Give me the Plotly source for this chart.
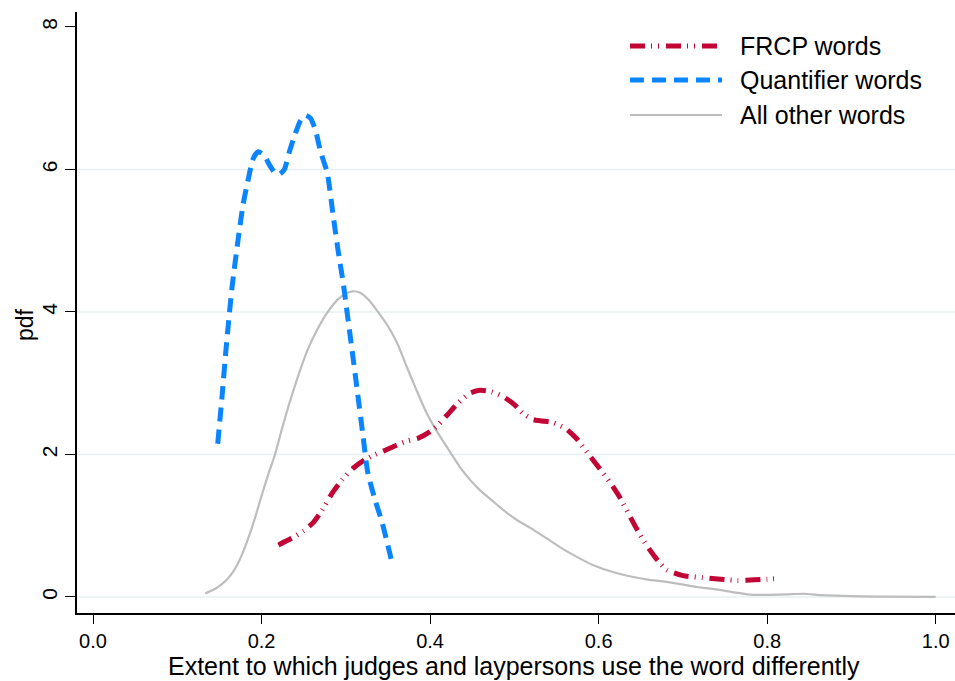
import plotly.graph_objects as go

# ---------------- data ----------------
quant_x = [0.148, 0.153, 0.158, 0.165, 0.172, 0.178, 0.184, 0.190, 0.196, 0.203,
           0.210, 0.216, 0.221, 0.227, 0.233, 0.240, 0.246, 0.252, 0.258, 0.264,
           0.270, 0.278, 0.285, 0.291, 0.297, 0.302, 0.307, 0.313, 0.320, 0.326,
           0.335, 0.343, 0.350, 0.355]
quant_y = [2.15, 2.80, 3.50, 4.35, 5.00, 5.50, 5.85, 6.15, 6.25, 6.20,
           6.05, 5.95, 5.93, 6.00, 6.25, 6.50, 6.68, 6.76, 6.72, 6.55,
           6.25, 5.95, 5.35, 4.85, 4.40, 3.95, 3.50, 2.95, 2.30, 1.75,
           1.35, 1.05, 0.72, 0.47]

frcp_x = [0.220, 0.235, 0.250, 0.261, 0.272, 0.284, 0.296, 0.309, 0.322, 0.335,
          0.347, 0.360, 0.373, 0.386, 0.400, 0.410, 0.420, 0.433, 0.447, 0.459,
          0.473, 0.487, 0.500, 0.511, 0.522, 0.533, 0.545, 0.560, 0.574, 0.587,
          0.600, 0.614, 0.625, 0.635, 0.645, 0.655, 0.667, 0.681, 0.700, 0.724,
          0.745, 0.765, 0.785, 0.800, 0.815]
frcp_y = [0.73, 0.82, 0.93, 1.04, 1.22, 1.46, 1.65, 1.81, 1.92, 2.00,
          2.06, 2.13, 2.19, 2.23, 2.32, 2.42, 2.55, 2.72, 2.86, 2.90,
          2.88, 2.81, 2.70, 2.57, 2.49, 2.47, 2.45, 2.37, 2.22, 2.02,
          1.82, 1.60, 1.40, 1.18, 0.96, 0.76, 0.56, 0.38, 0.30, 0.27,
          0.25, 0.23, 0.24, 0.25, 0.26]

other_x = [0.133, 0.143, 0.153, 0.163, 0.171, 0.178, 0.185, 0.192, 0.200, 0.208,
           0.216, 0.224, 0.232, 0.242, 0.254, 0.266, 0.278, 0.290, 0.300, 0.308,
           0.317, 0.327, 0.337, 0.349, 0.361, 0.372, 0.384, 0.396, 0.412, 0.424,
           0.435, 0.447, 0.459, 0.473, 0.487, 0.503, 0.519, 0.536, 0.554, 0.573,
           0.593, 0.617, 0.641, 0.660, 0.676, 0.697, 0.717, 0.744, 0.763, 0.783,
           0.805, 0.823, 0.843, 0.865, 0.890, 0.930, 1.000]
other_y = [0.05, 0.10, 0.18, 0.30, 0.45, 0.63, 0.85, 1.10, 1.42, 1.72,
           2.00, 2.35, 2.68, 3.05, 3.45, 3.75, 3.99, 4.17, 4.26, 4.29,
           4.27, 4.17, 4.02, 3.82, 3.56, 3.24, 2.90, 2.58, 2.25, 2.03,
           1.83, 1.65, 1.50, 1.36, 1.22, 1.08, 0.97, 0.84, 0.70, 0.57,
           0.45, 0.35, 0.28, 0.24, 0.22, 0.18, 0.14, 0.10, 0.06, 0.03,
           0.03, 0.035, 0.045, 0.025, 0.015, 0.005, 0.0]

x_ticks = [0.0, 0.2, 0.4, 0.6, 0.8, 1.0]
x_ticklabels = ["0.0", "0.2", "0.4", "0.6", "0.8", "1.0"]
y_ticks = [0, 2, 4, 6, 8]
y_ticklabels = ["0", "2", "4", "6", "8"]
grid_vals = [0, 2, 4, 6]

series_names = ["FRCP words", "Quantifier words", "All other words"]
x_title = "Extent to which judges and laypersons use the word differently"
y_title = "pdf"

# ---------------- style ----------------
RED = "#c10534"
BLUE = "#0a84ff"
GRAY = "#bdbdbd"
RED_DASH = "15px,6px,1px,6px,1px,7px"
BLUE_DASH = "14px,8px"
FONT = "Liberation Sans, Arial, Helvetica, sans-serif"

# figure fills the whole window (page body margin removed below)
W, H = 955, 681
ML, MT, MR = 77, 12, 0
MB = H - 613

fig = go.Figure()
fig.add_trace(go.Scatter(x=other_x, y=other_y, mode="lines", name=series_names[2],
                         line=dict(color=GRAY, width=2.2, shape="spline", smoothing=0.6),
                         showlegend=False))
fig.add_trace(go.Scatter(x=frcp_x, y=frcp_y, mode="lines", name=series_names[0],
                         line=dict(color=RED, width=5, dash=RED_DASH, shape="spline", smoothing=0.6),
                         showlegend=False))
fig.add_trace(go.Scatter(x=quant_x, y=quant_y, mode="lines", name=series_names[1],
                         line=dict(color=BLUE, width=5, dash=BLUE_DASH, shape="spline", smoothing=0.6),
                         showlegend=False))

shapes = []
for g in grid_vals:
    shapes.append(dict(type="line", xref="paper", yref="y", x0=0, x1=1, y0=g, y1=g,
                       line=dict(color="#e8f0f2", width=1.6), layer="below"))

# custom legend (paper coordinates, from window pixels)
pw = W - ML - MR
ph = H - MT - MB
def px2paper_x(px):
    return (px - ML) / pw
def px2paper_y(py):
    return 1 - (py - MT) / ph

leg_items = [(series_names[0], RED, 5, RED_DASH, 46),
             (series_names[1], BLUE, 5, BLUE_DASH, 80),
             (series_names[2], GRAY, 2.2, "solid", 115)]
annotations = []
for name, col, wd, dash, py in leg_items:
    shapes.append(dict(type="line", xref="paper", yref="paper",
                       x0=px2paper_x(630), x1=px2paper_x(722),
                       y0=px2paper_y(py), y1=px2paper_y(py),
                       line=dict(color=col, width=wd, dash=dash)))
    annotations.append(dict(xref="paper", yref="paper", x=px2paper_x(738), y=px2paper_y(py),
                            text=name, showarrow=False, xanchor="left", yanchor="middle",
                            font=dict(family=FONT, size=25, color="black")))

# axis titles as annotations
annotations.append(dict(xref="paper", yref="paper", x=px2paper_x(514), y=px2paper_y(666),
                        text=x_title, showarrow=False, xanchor="center", yanchor="middle",
                        font=dict(family=FONT, size=25, color="black")))
annotations.append(dict(xref="paper", yref="paper", x=px2paper_x(25), y=px2paper_y(325),
                        text=y_title, showarrow=False, xanchor="center", yanchor="middle",
                        textangle=-90, font=dict(family=FONT, size=23, color="black")))

fig.update_layout(
    width=W, height=H,
    margin=dict(l=ML, r=MR, t=MT, b=MB, autoexpand=False),
    paper_bgcolor="white", plot_bgcolor="white",
    font=dict(family=FONT, color="black"),
    shapes=shapes, annotations=annotations,
    showlegend=False,
    xaxis=dict(range=[-0.019, 1.0229], tickvals=x_ticks, ticktext=x_ticklabels,
               showgrid=False, zeroline=False, showline=True, linecolor="black", linewidth=1.5,
               ticks="outside", ticklen=9, tickwidth=1.3, tickcolor="black",
               tickfont=dict(size=20, family=FONT), automargin=False),
    yaxis=dict(range=[-0.225, 8.21], tickvals=y_ticks, ticktext=y_ticklabels,
               showgrid=False, zeroline=False, showline=True, linecolor="black", linewidth=1.5,
               ticks="outside", ticklen=10, tickwidth=1.3, tickcolor="black",
               tickangle=-90, tickfont=dict(size=21, family=FONT), automargin=False),
)

fig.write_html("out.html",
               config={"displayModeBar": False},
               post_script="document.body.style.margin='0';document.body.style.overflow='hidden';")
